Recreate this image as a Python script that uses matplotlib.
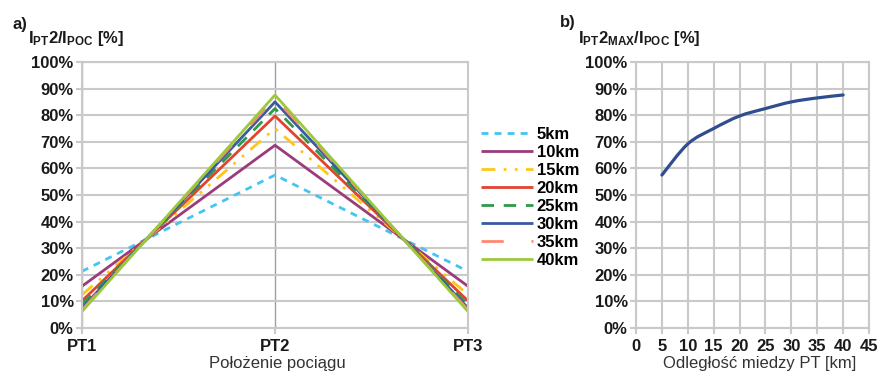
import matplotlib
matplotlib.use("Agg")
import matplotlib.pyplot as plt
from matplotlib.path import Path
from matplotlib.patches import PathPatch
from matplotlib.ticker import PercentFormatter, MultipleLocator

plt.rcParams['font.family'] = ['Liberation Sans', 'DejaVu Sans']
plt.rcParams['mathtext.fontset'] = 'custom'
plt.rcParams['mathtext.rm'] = 'Liberation Sans'
plt.rcParams['mathtext.bf'] = 'Liberation Sans:bold'
plt.rcParams['mathtext.it'] = 'Liberation Sans:italic'

# data
positions = ["PT1", "PT2", "PT3"]
series_names = ["5km", "10km", "15km", "20km", "25km", "30km", "35km", "40km"]
pt2_values = [57.5, 68.7, 75.0, 79.7, 82.5, 85.0, 86.5, 87.6]
pt1_values = [21.3, 15.7, 12.5, 10.2, 8.8, 7.5, 6.8, 6.2]
pt3_values = [21.3, 15.7, 12.5, 10.2, 8.8, 7.5, 6.8, 6.2]

distance_km = [5, 10, 15, 20, 25, 30, 35, 40]
max_ratio = [57.5, 69.2, 75.0, 79.7, 82.5, 85.0, 86.5, 87.6]

colors = ["#45c4f2", "#9b3a7c", "#ffc61a", "#e2432f",
          "#2e9a48", "#3b5aa0", "#ff8870", "#9cc93a"]
dashes = [(2.5, 2.2), None, (5, 3, 1, 3, 1, 3), None,
          (4.5, 3.5), None, (8, 10), None]

grid_c = "#c9c9c9"
txt_c = "#1a1a1a"
fs = 12


def smooth_path(x, y):
    # Excel-style smoothed line: cubic Bezier segments (Catmull-Rom tangents)
    verts = [(x[0], y[0])]
    codes = [Path.MOVETO]
    n = len(x)
    for i in range(n - 1):
        x0, y0 = (x[i - 1], y[i - 1]) if i > 0 else (x[i], y[i])
        x3, y3 = (x[i + 2], y[i + 2]) if i + 2 < n else (x[i + 1], y[i + 1])
        c1 = (x[i] + (x[i + 1] - x0) / 6, y[i] + (y[i + 1] - y0) / 6)
        c2 = (x[i + 1] - (x3 - x[i]) / 6, y[i + 1] - (y3 - y[i]) / 6)
        verts += [c1, c2, (x[i + 1], y[i + 1])]
        codes += [Path.CURVE4] * 3
    return Path(verts, codes)


fig = plt.figure(figsize=(8.8, 3.72), dpi=100)
ax1 = fig.add_axes([82 / 880, 1 - 328 / 372, (468 - 82) / 880, (328 - 62) / 372])
ax2 = fig.add_axes([636 / 880, 1 - 328 / 372, (869 - 636) / 880, (328 - 62) / 372])

xs = [0, 1, 2]
for i, name in enumerate(series_names):
    ys = [pt1_values[i], pt2_values[i], pt3_values[i]]
    line, = ax1.plot(xs, ys, color=colors[i], lw=2.0, label=name,
                     solid_capstyle='butt', dash_capstyle='butt')
    if dashes[i] is not None:
        line.set_dashes(dashes[i])

ax2.add_patch(PathPatch(smooth_path(distance_km, max_ratio), facecolor='none',
                        edgecolor="#2f4d8f", lw=2.3, capstyle='round'))

for ax in (ax1, ax2):
    ax.set_ylim(0, 100)
    ax.yaxis.set_major_locator(MultipleLocator(10))
    ax.yaxis.set_major_formatter(PercentFormatter(decimals=0))
    ax.grid(True, color=grid_c, lw=1.5)
    ax.set_axisbelow(True)
    for s in ax.spines.values():
        s.set_color(grid_c)
        s.set_linewidth(1.5)
    ax.tick_params(length=4, width=1.5, color=grid_c, pad=2,
                   labelsize=fs, labelcolor=txt_c)

ax1.set_xlim(0, 2)
ax1.set_xticks(xs)
ax1.set_xticklabels(positions)
ax1.grid(axis='x', color="#a0a0a0", lw=1.0)
ax1.tick_params(axis='x', pad=4)

ax2.set_xlim(0, 45)
ax2.xaxis.set_major_locator(MultipleLocator(5))
ax2.tick_params(axis='x', pad=4)

fig.canvas.draw()
for ax in (ax1, ax2):
    for lab in ax.get_xticklabels() + ax.get_yticklabels():
        lab.set_fontweight('bold')

leg = ax1.legend(loc='upper left', bbox_to_anchor=(481 / 880, 1 - 127 / 372),
                 bbox_transform=fig.transFigure, frameon=False,
                 borderaxespad=0, borderpad=0, handlelength=3.1,
                 handletextpad=0.25, labelspacing=0.18,
                 prop={'size': fs, 'weight': 'bold'})

fig.text(12 / 880, 1 - 24 / 372, "a)", fontsize=fs, fontweight='bold',
         color=txt_c, va='center', ha='left')
fig.text(28 / 880, 1 - 38 / 372, r"$\mathbf{I_{PT}2/I_{POC}}$ [%]",
         fontsize=fs, fontweight='bold', color=txt_c, va='center', ha='left')
fig.text(560 / 880, 1 - 22 / 372, "b)", fontsize=fs, fontweight='bold',
         color=txt_c, va='center', ha='left')
fig.text(578 / 880, 1 - 38 / 372, r"$\mathbf{I_{PT}2_{MAX}/I_{POC}}$ [%]",
         fontsize=fs, fontweight='bold', color=txt_c, va='center', ha='left')

fig.text(277 / 880, 1 - 356 / 372, "Położenie pociągu", fontsize=fs,
         color="#333333", ha='center', va='top')
fig.text(760 / 880, 1 - 356 / 372, "Odległość miedzy PT [km]", fontsize=fs,
         color="#333333", ha='center', va='top')

fig.savefig("out.png", dpi=100)
